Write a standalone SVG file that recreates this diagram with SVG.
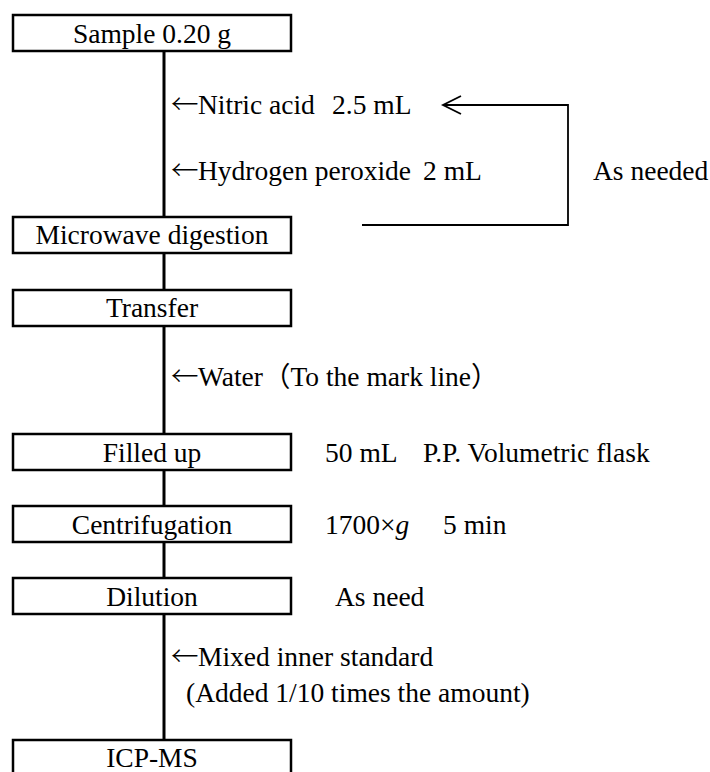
<svg xmlns="http://www.w3.org/2000/svg" width="710" height="772" viewBox="0 0 710 772">
<style>
  .box { fill: #fff; stroke: #000; stroke-width: 2.5; }
  .t { font-family: "Liberation Serif", "Noto Sans CJK JP", serif; font-size: 27.5px; fill: #000; }
  .ar { font-family: "Noto Sans CJK JP", "Liberation Serif", sans-serif; font-weight: 300; }
  .c { text-anchor: middle; }
  .conn { stroke: #000; stroke-width: 3; fill: none; }
  .fb { stroke: #000; stroke-width: 1.8; fill: none; }
</style>
<rect width="710" height="772" fill="#fff"/>
<g id="connectors">
  <path class="conn" d="M164 51 V217 M164 253 V290 M164 326 V434 M164 470 V506 M164 542 V578 M164 614 V740"/>
  <path class="fb" d="M362 225 H568 V105 H444"/>
  <path class="fb" d="M461 96 L443 105 L461 114"/>
</g>
<g id="n-sample"><rect class="box" x="13" y="15" width="278" height="36"/><text class="t c" x="152" y="43">Sample 0.20 g</text></g>
<g id="n-microwave"><rect class="box" x="13" y="217" width="278" height="36"/><text class="t c" x="152" y="244">Microwave digestion</text></g>
<g id="n-transfer"><rect class="box" x="13" y="290" width="278" height="36"/><text class="t c" x="152" y="317">Transfer</text></g>
<g id="n-filled"><rect class="box" x="13" y="434" width="278" height="36"/><text class="t c" x="152" y="462">Filled up</text></g>
<g id="n-centrifugation"><rect class="box" x="13" y="506" width="278" height="36"/><text class="t c" x="152" y="534">Centrifugation</text></g>
<g id="n-dilution"><rect class="box" x="13" y="578" width="278" height="36"/><text class="t c" x="152" y="606">Dilution</text></g>
<g id="n-icpms"><rect class="box" x="13" y="740" width="278" height="36"/><text class="t c" x="152" y="767">ICP-MS</text></g>
<g id="labels">
  <text class="t" y="114"><tspan class="ar" x="171">←</tspan><tspan x="198">Nitric acid</tspan><tspan x="332">2.5 mL</tspan></text>
  <text class="t" y="180"><tspan class="ar" x="171">←</tspan><tspan x="198">Hydrogen peroxide</tspan><tspan x="423">2 mL</tspan></text>
  <text class="t" x="593" y="180">As needed</text>
  <text class="t" y="386"><tspan class="ar" x="171">←</tspan><tspan x="198">Water（To the mark line）</tspan></text>
  <text class="t" y="462"><tspan x="325">50 mL</tspan><tspan x="423">P.P. Volumetric flask</tspan></text>
  <text class="t" y="534"><tspan x="325">1700×</tspan><tspan font-style="italic">g</tspan><tspan x="443">5 min</tspan></text>
  <text class="t" x="335" y="606">As need</text>
  <text class="t" y="666"><tspan class="ar" x="171">←</tspan><tspan x="198">Mixed inner standard</tspan></text>
  <text class="t" x="186" y="702">(Added 1/10 times the amount)</text>
</g>
</svg>
